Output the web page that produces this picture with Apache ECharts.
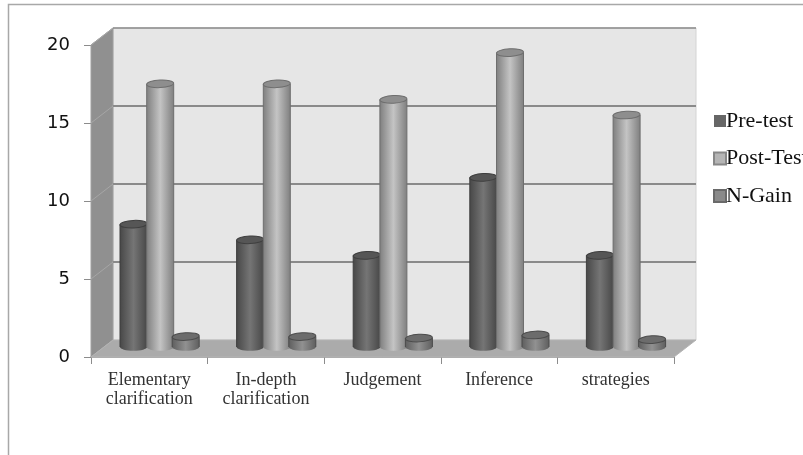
<!DOCTYPE html>
<html><head><meta charset="utf-8">
<style>html,body{margin:0;padding:0;background:#fff}#c{width:803px;height:455px}</style>
<script src="https://cdn.jsdelivr.net/npm/echarts@6/dist/echarts.min.js"></script>
</head><body><div id="c"></div>
<script>
const categories = ['Elementary\nclarification','In-depth\nclarification','Judgement','Inference','strategies'];
const preTest = [8,7,6,11,6];
const postTest = [17,17,16,19,15];
const nGain = [0.8,0.8,0.7,0.9,0.6];
const gridTicks = [0,5,10,15,20];

const DX = 22, DY = 17;      // 3D depth of the box
const BASE_LIFT = 10, TOP_LIFT = 8, BAR_W = 27, RY = 3.8, TILT = 0.05;

function cyl(offset, edge, mid, top, line){
  return function(params, api){
    const i = api.value(0), v = api.value(1);
    const base = api.coord([i,0]), head = api.coord([i,v]);
    const cx = base[0] + offset, y0 = base[1]-BASE_LIFT, y1 = head[1]-TOP_LIFT;
    const grad = {type:'linear',x:0,y:0,x2:1,y2:0,colorStops:[
      {offset:0,color:edge},{offset:0.5,color:mid},{offset:1,color:edge}]};
    return {type:'group',children:[
      {type:'ellipse',shape:{cx:cx,cy:y0,rx:BAR_W/2,ry:RY},style:{fill:grad,stroke:null}},
      {type:'rect',shape:{x:cx-BAR_W/2,y:y1,width:BAR_W,height:y0-y1},style:{fill:grad,stroke:null}},
      {type:'line',shape:{x1:cx-BAR_W/2,y1:y1,x2:cx-BAR_W/2,y2:y0},style:{stroke:line,lineWidth:1}},
      {type:'line',shape:{x1:cx+BAR_W/2,y1:y1,x2:cx+BAR_W/2,y2:y0},style:{stroke:line,lineWidth:1}},
      {type:'ellipse',originX:cx,originY:y1,rotation:TILT,shape:{cx:cx,cy:y1,rx:BAR_W/2,ry:RY},style:{fill:top,stroke:line,lineWidth:1}}
    ]};
  };
}

function walls(params, api){
  const band = api.size([1,0])[0];
  const b = api.coord([0,0]), t = api.coord([0,20]);
  const L = b[0]-band/2, R = L + band*categories.length, B = b[1], T = t[1];
  const kids = [
    {type:'polygon',shape:{points:[[L+DX,T-DY],[R+DX,T-DY],[R+DX,B-DY],[L+DX,B-DY]]},style:{fill:'#e6e6e6',stroke:'#d4d4d4',lineWidth:1}},
    {type:'polygon',shape:{points:[[L,T],[L+DX,T-DY],[L+DX,B-DY],[L,B]]},style:{fill:'#909090',stroke:'#a0a0a0',lineWidth:1}},
    {type:'polygon',shape:{points:[[L,B],[R,B],[R+DX,B-DY],[L+DX,B-DY]]},style:{fill:'#ababab',stroke:'#b4b4b4',lineWidth:1}}
  ];
  gridTicks.forEach(v=>{
    const y = api.coord([0,v])[1];
    if(v>0){
      kids.push({type:'line',shape:{x1:L+DX,y1:y-DY,x2:R+DX,y2:y-DY},style:{stroke:'#8a8a8a',lineWidth:v===20?1.5:2}});
      kids.push({type:'line',shape:{x1:L,y1:y,x2:L+DX,y2:y-DY},style:{stroke:'#a6a6a6',lineWidth:1}});
    }
  });
  return {type:'group',children:kids};
}

const chart = echarts.init(document.getElementById('c'),null,{renderer:'canvas'});
chart.setOption({
  animation:false,
  backgroundColor:'#fff',
  graphic:[
    {type:'polyline',silent:true,shape:{points:[[8.5,455],[8.5,4.5],[803,4.5]]},style:{fill:null,stroke:'#a8a8a8',lineWidth:1.5}}
  ],
  grid:{left:91,right:129,top:45,bottom:98},
  legend:{
    orient:'vertical',left:708,top:105,itemWidth:12,itemHeight:12,itemGap:15.5,
    icon:'rect',
    data:['Pre-test','Post-Test','N-Gain'],
    textStyle:{fontFamily:'Liberation Serif',fontSize:22,color:'#111',padding:[0,0,0,-5]}
  },
  xAxis:{type:'category',data:categories,boundaryGap:true,
    axisLine:{lineStyle:{color:'#8c8c8c',width:1.5}},
    axisTick:{show:true,length:7,alignWithLabel:false,lineStyle:{color:'#8c8c8c'}},
    axisLabel:{interval:0,margin:14,fontFamily:'Liberation Serif',fontSize:18,lineHeight:19,color:'#333'}
  },
  yAxis:{type:'value',min:0,max:20,interval:5,
    axisLine:{show:false},
    axisTick:{show:true,length:7,lineStyle:{color:'#8c8c8c'}},
    splitLine:{show:false},
    axisLabel:{margin:21,padding:[3,0,0,0],fontFamily:'DejaVu Sans',fontSize:18,color:'#111'}
  },
  series:[
    {type:'custom',name:'walls',silent:true,clip:false,z:1,data:[[0,0]],renderItem:walls},
    {type:'custom',name:'Pre-test',clip:false,z:2,itemStyle:{color:'#666666'},
      data:preTest.map((v,i)=>[i,v]),renderItem:cyl(-15.8,'#484848','#757575','#565656','#3f3f3f')},
    {type:'custom',name:'Post-Test',clip:false,z:3,itemStyle:{color:'#b5b5b5',borderColor:'#888',borderWidth:1},
      data:postTest.map((v,i)=>[i,v]),renderItem:cyl(10.9,'#808080','#c4c4c4','#8e8e8e','#6e6e6e')},
    {type:'custom',name:'N-Gain',clip:false,z:4,itemStyle:{color:'#8a8a8a',borderColor:'#6a6a6a',borderWidth:1},
      data:nGain.map((v,i)=>[i,v]),renderItem:cyl(36.4,'#5f5f5f','#919191','#6c6c6c','#4c4c4c')}
  ]
});
</script></body></html>
